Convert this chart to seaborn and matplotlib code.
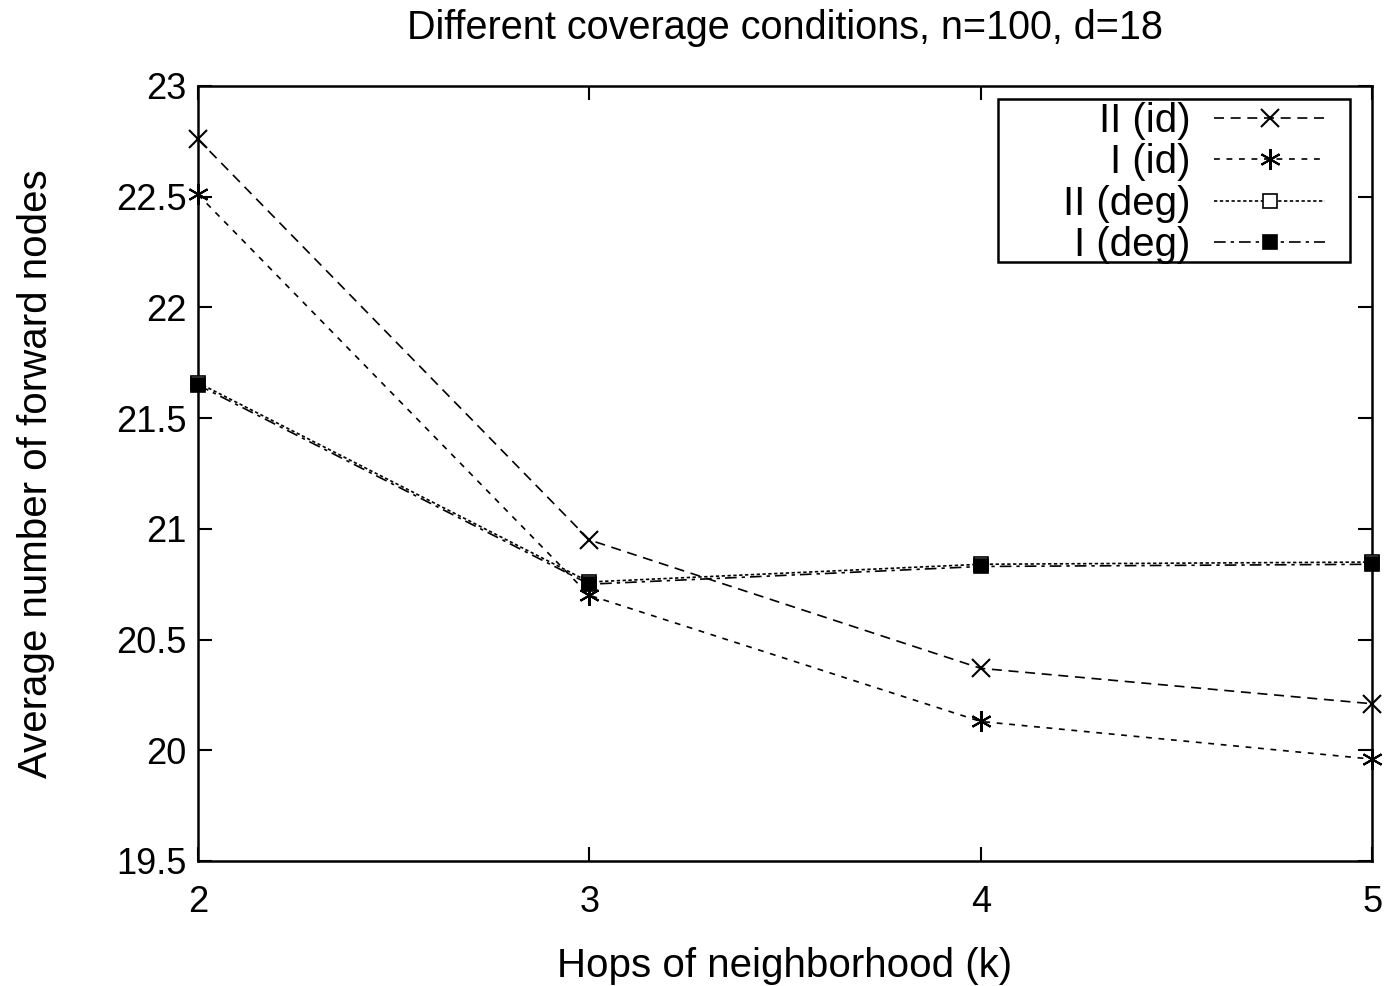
import matplotlib
matplotlib.use("Agg")
import matplotlib.pyplot as plt
from matplotlib.patches import Rectangle
import seaborn as sns
import pandas as pd

hops = [2, 3, 4, 5]
ii_id = [22.76, 20.95, 20.37, 20.21]
i_id = [22.51, 20.70, 20.13, 19.96]
ii_deg = [21.66, 20.76, 20.84, 20.85]
i_deg = [21.65, 20.75, 20.83, 20.84]

labels = ["II (id)", "I (id)", "II (deg)", "I (deg)"]
series = [ii_id, i_id, ii_deg, i_deg]

sns.set_theme(style="ticks")
plt.rcParams['font.family'] = ['Liberation Sans', 'DejaVu Sans']
plt.rcParams['text.color'] = 'black'
plt.rcParams['axes.labelcolor'] = 'black'

fig = plt.figure(figsize=(13.93, 9.86), dpi=100)
ax = fig.add_axes([0.1421, 0.1268, 0.8429, 0.786])

styles = [
    dict(marker="x", linestyle=(0, (6, 4)), markersize=13, mfc="black", mew=1.5),
    dict(marker=(6, 2, 0), linestyle=(0, (3.5, 4)), markersize=15, mfc="black", mew=1.5),
    dict(marker="s", linestyle=(0, (2, 1.5)), markersize=10, mfc="white", mew=1.2),
    dict(marker="s", linestyle=(0, (7, 3, 2, 3)), markersize=10, mfc="black", mew=1.2),
]

for lab, vals, st in zip(labels, series, styles):
    df = pd.DataFrame({"k": hops, "v": vals})
    sns.lineplot(data=df, x="k", y="v", ax=ax, color="black", linewidth=1.2,
                 label=lab, marker=st["marker"], markersize=st["markersize"],
                 markerfacecolor=st["mfc"], markeredgecolor="black",
                 markeredgewidth=st["mew"], linestyle=st["linestyle"],
                 clip_on=False, zorder=3)

ax.set_xlim(2, 5)
ax.set_ylim(19.5, 23)
ax.set_xticks(hops)
ax.set_yticks([19.5, 20, 20.5, 21, 21.5, 22, 22.5, 23])
ax.set_yticklabels(["19.5", "20", "20.5", "21", "21.5", "22", "22.5", "23"])
ax.tick_params(direction="in", length=10, width=1.5, labelsize=26, colors="black",
               top=True, right=True)
ax.tick_params(axis="x", pad=17)
ax.tick_params(axis="y", pad=8)
for s in ax.spines.values():
    s.set_linewidth(1.8)
    s.set_color("black")
    s.set_visible(True)

ax.set_xlabel("Hops of neighborhood (k)", fontsize=29, labelpad=20)
ax.set_ylabel("Average number of forward nodes", fontsize=29, labelpad=44)
ax.set_title("Different coverage conditions, n=100, d=18", fontsize=28.5, pad=34)

leg = ax.legend(loc="upper right", bbox_to_anchor=(0.960, 0.979),
                markerfirst=False, fontsize=29, frameon=False,
                handlelength=2.75, borderaxespad=0.0, labelspacing=0.08,
                handletextpad=0.6, borderpad=0.0)
for t in leg.get_texts():
    t.set_ha("right")
leg._legend_box.align = "right"
leg.set_zorder(6)

box = Rectangle((0.681, 0.773), 0.300, 0.210, transform=ax.transAxes,
                facecolor="white", edgecolor="black", linewidth=1.8, zorder=5)
ax.add_patch(box)

fig.savefig("out.png", dpi=100)
